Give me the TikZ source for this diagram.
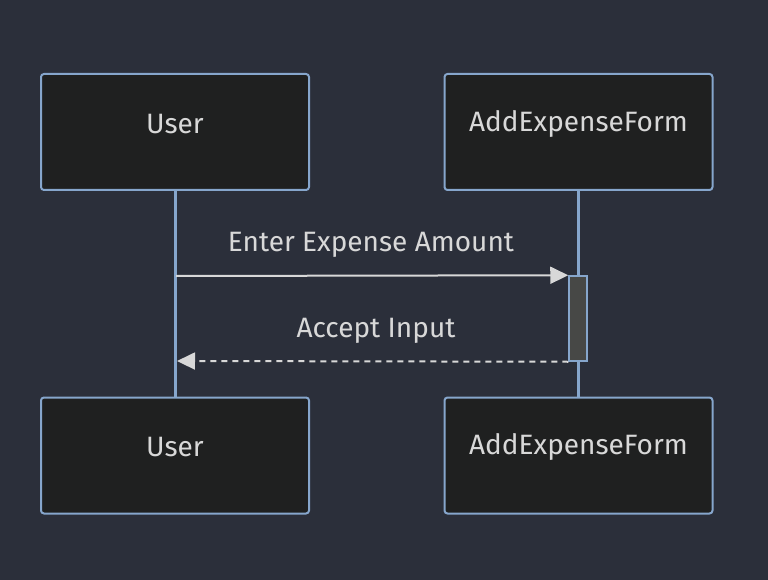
\documentclass[tikz,border=0pt]{standalone}
\usepackage{fontspec}
\setmainfont{Fira Sans}
\usetikzlibrary{arrows.meta}
\definecolor{bg}{HTML}{2B2F3A}
\definecolor{boxfill}{HTML}{1F2020}
\definecolor{edge}{HTML}{86A6CC}
\definecolor{txt}{HTML}{D8D8D8}
\definecolor{actfill}{HTML}{474846}
\tikzset{
  actor/.style={draw=edge, line width=2pt, fill=boxfill, rounded corners=3pt,
    minimum width=268pt, minimum height=116pt, inner sep=0pt},
  actortext/.style={text=txt, font=\fontsize{28}{33}\selectfont, inner sep=0pt},
  lifeline/.style={draw=edge, line width=3pt},
  msg/.style={draw=txt, line width=2pt, -{Triangle[length=18pt,width=17pt]}},
  msglabel/.style={text=txt, font=\fontsize{28}{33}\selectfont, inner sep=0pt},
  act/.style={draw=edge, line width=1.5pt, fill=actfill, minimum width=18pt, minimum height=85pt, inner sep=0pt}
}
\begin{document}
\begin{tikzpicture}[x=1pt,y=-1pt]
\fill[bg] (0,0) rectangle (768,580);
\useasboundingbox (0,0) rectangle (768,580);
\node[actor] (ut) at (175,132) {};
\node[actor] (at) at (578.5,132) {};
\node[actor] (ub) at (175,455.5) {};
\node[actor] (ab) at (578.5,455.5) {};
\node[actortext] (utt) at (175,124) {User};
\node[actortext] (att) at (578.5,124) {AddExpenseForm};
\node[actortext] (ubt) at (175,447) {User};
\node[actortext] (abt) at (578.5,447) {AddExpenseForm};
\draw[lifeline] (ut.south) -- (ub.north);
\draw[lifeline] (at.south) -- (ab.north);
\node[act] (ac) at (578,318.5) {};
\coordinate (u1) at (176,276);
\coordinate (u2) at (177,361);
\draw[msg] (u1) -- (ac.north west);
\draw[msg, dashed, dash pattern=on 6pt off 5pt] (ac.south west) -- (u2);
\node[msglabel] (l1) at (371,245) {Enter Expense Amount};
\node[msglabel] (l2) at (376,331) {Accept Input};
\end{tikzpicture}
\end{document}
